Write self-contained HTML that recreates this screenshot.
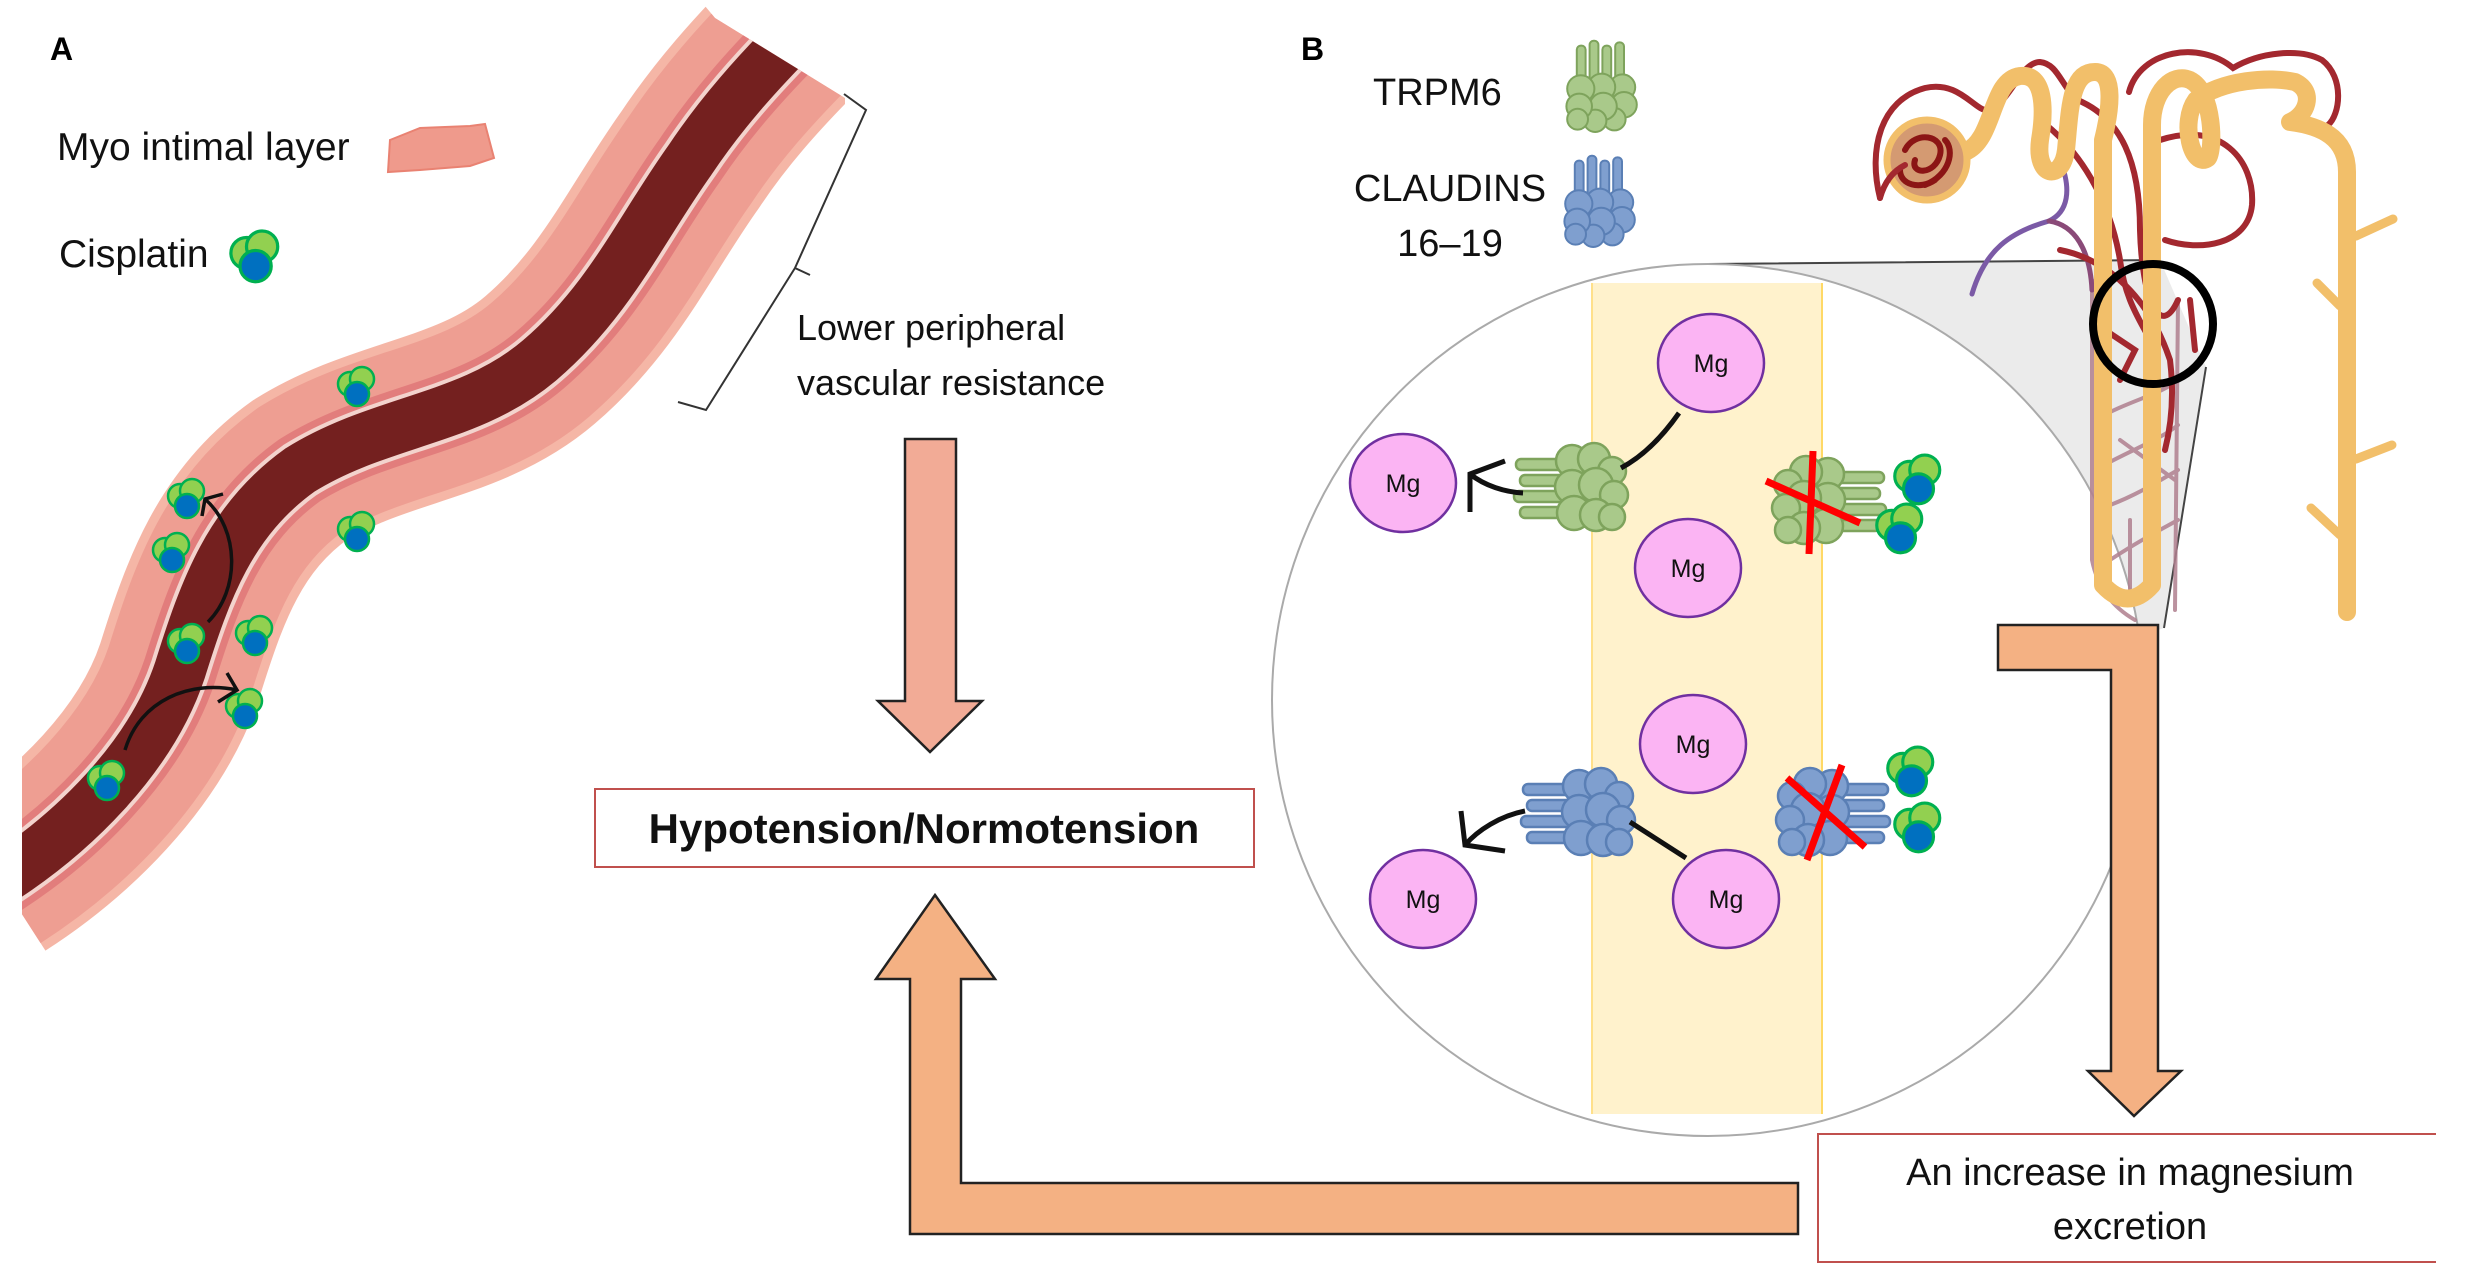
<!DOCTYPE html>
<html><head><meta charset="utf-8"><style>
html,body{margin:0;padding:0;background:#fff;}
svg{display:block;}
text{font-family:"Liberation Sans",sans-serif;}
</style></head><body>
<svg width="2474" height="1286" viewBox="0 0 2474 1286" xmlns="http://www.w3.org/2000/svg">
<defs>
  <g id="cis">
    <circle cx="-5" cy="-3" r="12" fill="#92d050" stroke="#00b050" stroke-width="2.5"/>
    <circle cx="7" cy="-8" r="12" fill="#92d050" stroke="#00b050" stroke-width="2.5"/>
    <circle cx="2" cy="7" r="12" fill="#0070c0" stroke="#00b050" stroke-width="2.5"/>
  </g>
  <g id="protG" fill="#a9c98a" stroke="#7ea35c" stroke-width="2.5">
    <rect x="-52" y="-30" width="60" height="11" rx="5"/>
    <rect x="-48" y="-14" width="60" height="11" rx="5"/>
    <rect x="-54" y="2" width="60" height="11" rx="5"/>
    <rect x="-48" y="18" width="60" height="11" rx="5"/>
    <circle cx="4" cy="-28" r="16"/><circle cx="26" cy="-30" r="16"/><circle cx="44" cy="-18" r="14"/>
    <circle cx="4" cy="-2" r="17"/><circle cx="28" cy="-4" r="17"/><circle cx="46" cy="6" r="14"/>
    <circle cx="6" cy="24" r="17"/><circle cx="28" cy="26" r="16"/><circle cx="44" cy="28" r="13"/>
  </g>
  <g id="protB" fill="#7f9fcf" stroke="#5a7fb5" stroke-width="2.5">
    <rect x="-52" y="-30" width="60" height="11" rx="5"/>
    <rect x="-48" y="-14" width="60" height="11" rx="5"/>
    <rect x="-54" y="2" width="60" height="11" rx="5"/>
    <rect x="-48" y="18" width="60" height="11" rx="5"/>
    <circle cx="4" cy="-28" r="16"/><circle cx="26" cy="-30" r="16"/><circle cx="44" cy="-18" r="14"/>
    <circle cx="4" cy="-2" r="17"/><circle cx="28" cy="-4" r="17"/><circle cx="46" cy="6" r="14"/>
    <circle cx="6" cy="24" r="17"/><circle cx="28" cy="26" r="16"/><circle cx="44" cy="28" r="13"/>
  </g>
  <clipPath id="vclip"><polygon points="22,1286 22,0 700,0 715,18 845,98 845,1286"/></clipPath>
  <path id="vp" d="M0 880 C70 835 150 760 180 670 C205 590 230 520 300 470 C380 420 470 420 540 360 C610 300 640 230 690 160 C720 115 755 75 800 30"/>
</defs>

<!-- ===== Panel A ===== -->
<text x="50" y="60" font-size="32" font-weight="bold">A</text>
<text x="57" y="160" font-size="39" fill="#111">Myo intimal layer</text>
<path d="M390 140 L420 128 L470 126 L485 124 L494 158 L470 166 L420 170 L388 172 Z" fill="#ef9a8c" stroke="#e98272" stroke-width="2"/>
<text x="59" y="267" font-size="39" fill="#111">Cisplatin</text>
<use href="#cis" transform="translate(253,257) scale(1.3)"/>

<g clip-path="url(#vclip)" fill="none">
  <use href="#vp" stroke="#f5b6a6" stroke-width="168"/>
  <use href="#vp" stroke="#ee9e92" stroke-width="150"/>
  <use href="#vp" stroke="#e27d7c" stroke-width="74"/>
  <use href="#vp" stroke="#f3d3cd" stroke-width="60"/>
  <use href="#vp" stroke="#74201f" stroke-width="52"/>
</g>
<use href="#cis" transform="translate(355,387)"/>
<use href="#cis" transform="translate(185,499)"/>
<use href="#cis" transform="translate(170,553)"/>
<use href="#cis" transform="translate(355,532)"/>
<use href="#cis" transform="translate(185,644)"/>
<use href="#cis" transform="translate(253,636)"/>
<use href="#cis" transform="translate(243,709)"/>
<use href="#cis" transform="translate(105,781)"/>
<g fill="none" stroke="#111" stroke-width="3.5">
  <path d="M208 622 C240 590 240 530 205 499"/>
  <path d="M223 494 L205 499 L202 516"/>
  <path d="M125 750 C140 700 190 680 237 690"/>
  <path d="M227 673 L237 690 L218 702"/>
</g>

<!-- bracket -->
<path d="M844 94 L866 110 L795 268 L810 275 M795 268 L706 410 L678 402" fill="none" stroke="#333" stroke-width="2"/>
<text x="797" y="340" font-size="36" fill="#111">Lower peripheral</text>
<text x="797" y="395" font-size="36" fill="#111">vascular resistance</text>

<!-- down arrow -->
<path d="M905 439 L956 439 L956 701 L982 701 L930 752 L878 701 L905 701 Z" fill="#f2ab96" stroke="#222" stroke-width="2.5"/>

<!-- Hypotension box -->
<rect x="595" y="789" width="659" height="78" fill="#fff" stroke="#c0504d" stroke-width="2"/>
<text x="924" y="843" font-size="42" font-weight="bold" text-anchor="middle" fill="#111">Hypotension/Normotension</text>

<!-- up L arrow -->
<path d="M935 895 L995 979 L961 979 L961 1183 L1798 1183 L1798 1234 L910 1234 L910 979 L876 979 Z" fill="#f4b183" stroke="#222" stroke-width="2.5"/>

<!-- ===== Panel B ===== -->
<text x="1301" y="60" font-size="32" font-weight="bold">B</text>
<text x="1373" y="105" font-size="38" fill="#111">TRPM6</text>
<use href="#protG" transform="translate(1600,84) rotate(90) scale(0.8)"/>
<text x="1450" y="201" font-size="38" fill="#111" text-anchor="middle">CLAUDINS</text>
<text x="1450" y="256" font-size="38" fill="#111" text-anchor="middle">16–19</text>
<use href="#protB" transform="translate(1598,199) rotate(90) scale(0.8)"/>

<!-- gray funnel -->
<path d="M1708 264 L2160 260 L2206 367 L2164 628 L2130 640 L1900 500 Z" fill="#ebebeb"/>
<path d="M1708 264 L2160 260 M2206 367 L2164 628" stroke="#444" stroke-width="2" fill="none"/>
<circle cx="1708" cy="700" r="436" fill="#fff" stroke="#aaa" stroke-width="2"/>
<rect x="1592" y="283" width="230" height="831" fill="#fff2cc"/>
<line x1="1592" y1="283" x2="1592" y2="1114" stroke="#ffe08a" stroke-width="2"/>
<line x1="1822" y1="283" x2="1822" y2="1114" stroke="#ffd966" stroke-width="2"/>

<!-- Mg ions -->
<g fill="#fbb4f3" stroke="#7030a0" stroke-width="2.5">
  <ellipse cx="1711" cy="363" rx="53" ry="49"/>
  <ellipse cx="1403" cy="483" rx="53" ry="49"/>
  <ellipse cx="1688" cy="568" rx="53" ry="49"/>
  <ellipse cx="1693" cy="744" rx="53" ry="49"/>
  <ellipse cx="1423" cy="899" rx="53" ry="49"/>
  <ellipse cx="1726" cy="899" rx="53" ry="49"/>
</g>
<g font-size="25" text-anchor="middle" fill="#111">
  <text x="1711" y="372">Mg</text>
  <text x="1403" y="492">Mg</text>
  <text x="1688" y="577">Mg</text>
  <text x="1693" y="753">Mg</text>
  <text x="1423" y="908">Mg</text>
  <text x="1726" y="908">Mg</text>
</g>

<!-- proteins -->
<use href="#protG" transform="translate(1568,489)"/>
<use href="#protG" transform="translate(1832,502) scale(-1,1)"/>
<use href="#protB" transform="translate(1575,814)"/>
<use href="#protB" transform="translate(1836,814) scale(-1,1)"/>
<g stroke="#ff0000" stroke-width="7">
  <line x1="1766" y1="481" x2="1860" y2="523"/>
  <line x1="1813" y1="451" x2="1809" y2="554"/>
  <line x1="1787" y1="778" x2="1865" y2="847"/>
  <line x1="1842" y1="765" x2="1807" y2="860"/>
</g>
<use href="#cis" transform="translate(1916,480) scale(1.25)"/>
<use href="#cis" transform="translate(1898,529) scale(1.25)"/>
<use href="#cis" transform="translate(1909,772) scale(1.25)"/>
<use href="#cis" transform="translate(1916,828) scale(1.25)"/>

<g fill="none" stroke="#111" stroke-width="5">
  <path d="M1679 413 C1660 440 1640 458 1621 468"/>
  <path d="M1523 493 C1505 492 1485 486 1470 474"/>
  <path d="M1505 461 L1470 474 L1470 512"/>
  <path d="M1630 822 L1686 858"/>
  <path d="M1525 811 C1500 816 1478 830 1465 845"/>
  <path d="M1461 811 L1465 845 L1505 851"/>
</g>

<!-- kidney nephron -->
<g fill="none" stroke-linecap="round">
  <g stroke="#b07f8f" stroke-width="4" opacity="0.85">
    <path d="M2092 280 L2092 560 Q2100 600 2135 620"/>
    <path d="M2178 300 L2175 610"/>
    <path d="M2095 420 C2130 400 2160 395 2178 380"/>
    <path d="M2095 470 C2130 450 2160 440 2178 425"/>
    <path d="M2120 440 L2175 480"/>
    <path d="M2095 510 C2130 500 2160 480 2178 470"/>
    <path d="M2110 560 C2140 540 2160 530 2178 520"/>
    <path d="M2130 520 L2130 600"/>
  </g>
  <path d="M1972 294 C1985 250 2010 232 2049 221 C2068 212 2072 190 2060 160" stroke="#7b5aa6" stroke-width="5"/>
  <path d="M2049 221 C2075 225 2090 250 2092 290" stroke="#8a4a78" stroke-width="5"/>
  <g stroke="#a3282f" stroke-width="6">
    <path d="M1880 198 C1868 150 1880 100 1925 88 C1960 80 1975 112 1988 110 C2010 104 2020 62 2040 62 C2060 64 2062 92 2082 102"/>
    <path d="M2082 102 C2120 120 2140 160 2140 230 C2142 300 2160 340 2178 300"/>
    <path d="M2129 92 C2140 50 2200 40 2233 68 C2260 52 2300 48 2322 60 C2345 78 2340 115 2328 125"/>
    <path d="M2160 140 C2220 120 2255 160 2252 205 C2248 245 2200 252 2165 240"/>
    <path d="M2040 120 C2080 150 2110 200 2120 260 C2125 300 2140 320 2150 340"/>
    <path d="M2060 250 C2110 260 2150 300 2170 360 C2175 400 2170 430 2165 450"/>
    <path d="M2105 330 L2135 350 L2120 380"/>
    <path d="M2190 300 L2195 350"/>
  </g>
  <g stroke="#f2bf6a" stroke-width="18" stroke-linejoin="round">
    <path d="M1965 152 C1995 140 1990 80 2020 76 C2045 73 2045 110 2040 140 C2035 178 2062 182 2066 150 C2070 110 2070 72 2095 72 C2116 72 2110 112 2103 140 L2103 585 Q2128 612 2152 585 L2152 125 C2152 92 2172 72 2190 80 C2214 92 2214 150 2208 158 C2192 170 2180 122 2196 100 C2222 80 2270 76 2295 82 C2316 92 2306 116 2290 122 C2322 126 2347 138 2347 172 L2347 612"/>
  </g>
  <g stroke="#f2bf6a" stroke-width="9">
    <path d="M2356 236 L2393 219"/>
    <path d="M2340 306 L2317 283"/>
    <path d="M2356 459 L2392 445"/>
    <path d="M2340 535 L2311 508"/>
  </g>
  <circle cx="1927" cy="160" r="40" fill="#d49a72" stroke="#f2bf6a" stroke-width="7"/>
  <g stroke="#8b1515" stroke-width="6">
    <path d="M1905 150 C1915 130 1945 135 1940 155 C1935 175 1910 175 1915 160"/>
    <path d="M1925 185 C1950 175 1955 150 1945 140"/>
    <path d="M1900 170 C1900 185 1920 190 1935 180"/>
  </g>
  <path d="M1880 198 C1885 180 1895 170 1905 165" stroke="#a3282f" stroke-width="6"/>
</g>
<circle cx="2153" cy="324" r="60" fill="none" stroke="#000" stroke-width="8"/>

<!-- right L arrow -->
<path d="M1998 625 L2158 625 L2158 1071 L2181 1071 L2134 1116 L2088 1071 L2111 1071 L2111 670 L1998 670 Z" fill="#f4b183" stroke="#222" stroke-width="2.5"/>

<!-- magnesium box -->
<path d="M2436 1134 L1818 1134 L1818 1262 L2436 1262" fill="#fff" stroke="#c0504d" stroke-width="2"/>
<text x="2130" y="1185" font-size="38" text-anchor="middle" fill="#111">An increase in magnesium</text>
<text x="2130" y="1239" font-size="38" text-anchor="middle" fill="#111">excretion</text>
</svg>
</body></html>
